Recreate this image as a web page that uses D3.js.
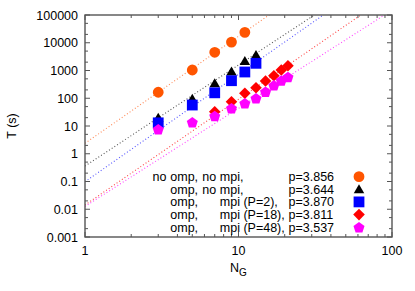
<!DOCTYPE html>
<html><head><meta charset="utf-8">
<script src="https://cdn.jsdelivr.net/npm/d3@7"></script>
<style>body{margin:0;background:#fff}svg text{font-family:"Liberation Sans",Arial,Helvetica,sans-serif;font-size:12.5px;fill:#000}</style>
</head><body>
<svg id="c" width="415" height="291"></svg>
<script>
// ---- data ----
const xTicks = [1, 10, 100];
const xTickLabels = ["1", "10", "100"];
const yTicks = [0.001, 0.01, 0.1, 1, 10, 100, 1000, 10000, 100000];
const yTickLabels = ["0.001", "0.01", "0.1", "1", "10", "100", "1000", "10000", "100000"];

const ngNoOmpNoMpi = [3, 5, 7, 9, 11];
const tNoOmpNoMpi  = [164, 1040, 4530, 10600, 23800];
const ngOmpNoMpi   = [3, 5, 7, 9, 11, 13];
const tOmpNoMpi    = [20, 95, 345, 920, 2220, 3650];
const ngMpiP2      = [3, 5, 7, 9, 11, 13];
const tMpiP2       = [13, 57, 157, 429, 883, 1815];
const ngMpiP18     = [7, 9, 11, 13, 15, 17, 19, 21];
const tMpiP18      = [32.7, 75, 151, 240, 419, 650, 1042, 1489];
const ngMpiP48     = [3, 5, 7, 9, 11, 13, 15, 17, 19, 21];
const tMpiP48      = [7.6, 13.6, 22.9, 43.4, 65.8, 99.6, 172, 290, 436, 583];

const legendCol1 = ["no", "", "", "", ""];
const legendCol2 = ["omp,", "omp,", "omp,", "omp,", "omp,"];
const legendCol3 = ["no", "no", "", "", ""];
const legendCol4 = ["mpi,", "mpi,", "mpi (P=2),", "mpi (P=18),", "mpi (P=48),"];
const legendP    = ["p=3.856", "p=3.644", "p=3.870", "p=3.811", "p=3.537"];

// fit T = a * N^p
const fitA = [2.38, 0.36, 0.098, 0.0142, 0.0126];
const fitP = [3.856, 3.644, 3.870, 3.811, 3.537];

const markerColors = ["#ff5500", "#000000", "#0000ff", "#ff0000", "#ff00ff"];
const lineColors   = ["#ff8855", "#555555", "#5555ff", "#ff4444", "#ff44ff"];
const shapes = ["circle", "triangle", "square", "diamond", "pentagon"];

// ---- layout ----
const svg = d3.select("#c");
const L = 85, R = 392, T = 15, B = 237;
const x = d3.scaleLog().domain([1, 100]).range([L, R]);
const y = d3.scaleLog().domain([0.001, 100000]).range([B, T]);

const series = [
  {ng: ngNoOmpNoMpi, t: tNoOmpNoMpi},
  {ng: ngOmpNoMpi, t: tOmpNoMpi},
  {ng: ngMpiP2, t: tMpiP2},
  {ng: ngMpiP18, t: tMpiP18},
  {ng: ngMpiP48, t: tMpiP48}
];

function shapePath(kind) {
  if (kind === "circle") return d3.symbol(d3.symbolCircle, 92)();
  if (kind === "triangle") {
    const w = 10.5, h = 9;
    return `M0,${-h/2-0.5}L${w/2},${h/2-0.5}L${-w/2},${h/2-0.5}Z`;
  }
  if (kind === "square") { const s = 5.4; return `M${-s},${-s}H${s}V${s}H${-s}Z`; }
  if (kind === "diamond") { const s = 5.8; return `M0,${-s}L${s},0L0,${s}L${-s},0Z`; }
  if (kind === "pentagon") {
    const r = 5.8, pts = [];
    for (let i = 0; i < 5; i++) {
      const a = -Math.PI/2 + i * 2*Math.PI/5;
      pts.push([r*Math.cos(a), r*Math.sin(a) + 0.5]);
    }
    return "M" + pts.map(p => p.join(",")).join("L") + "Z";
  }
}

svg.append("defs").append("clipPath").attr("id", "clip")
  .append("rect").attr("x", L).attr("y", T).attr("width", R - L).attr("height", B - T);

// fit lines
const fitG = svg.append("g").attr("clip-path", "url(#clip)");
fitA.forEach((a, i) => {
  const line = d3.line().x(d => x(d)).y(d => y(a * Math.pow(d, fitP[i])));
  fitG.append("path").datum([1, 100]).attr("d", line)
    .attr("fill", "none").attr("stroke", lineColors[i])
    .attr("stroke-width", 1.1).attr("stroke-dasharray", "1,2.2");
});

// markers
series.forEach((s, i) => {
  svg.append("g").selectAll("path").data(s.ng).join("path")
    .attr("d", shapePath(shapes[i]))
    .attr("transform", (d, j) => `translate(${x(d)},${y(s.t[j])})`)
    .attr("fill", markerColors[i]);
});

// frame and ticks
const axG = svg.append("g");
const frameColor = "#555";
axG.append("rect").attr("x", L).attr("y", T).attr("width", R - L).attr("height", B - T)
  .attr("fill", "none").attr("stroke", frameColor).attr("stroke-width", 1.4);

const xMinor = [];
[1, 10].forEach(dec => { for (let k = 2; k <= 9; k++) xMinor.push(dec * k); });
const yMinor = [];
yTicks.slice(0, -1).forEach(dec => { [2, 5].forEach(k => yMinor.push(dec * k)); });

function tick(x1, y1, x2, y2) {
  axG.append("line").attr("x1", x1).attr("y1", y1).attr("x2", x2).attr("y2", y2)
    .attr("stroke", frameColor).attr("stroke-width", 1);
}
xTicks.forEach(v => { const px = x(v); tick(px, B, px, B - 5); tick(px, T, px, T + 5); });
xMinor.forEach(v => { const px = x(v); tick(px, B, px, B - 3); tick(px, T, px, T + 3); });
yTicks.forEach(v => { const py = y(v); tick(L, py, L + 5, py); tick(R, py, R - 5, py); });
yMinor.forEach(v => { const py = y(v); tick(L, py, L + 3, py); tick(R, py, R - 3, py); });

// tick labels
svg.append("g").selectAll("text").data(yTicks).join("text")
  .attr("x", 78).attr("y", d => y(d) + 4.5).attr("text-anchor", "end")
  .text((d, i) => yTickLabels[i]);
svg.append("g").selectAll("text").data(xTicks).join("text")
  .attr("x", d => x(d)).attr("y", 254.5).attr("text-anchor", "middle")
  .text((d, i) => xTickLabels[i]);

// axis titles
const xt = svg.append("text").attr("x", 230).attr("y", 271.5);
xt.append("tspan").text("N");
xt.append("tspan").attr("dy", 4).style("font-size", "10px").text("G");
svg.append("text").attr("transform", "translate(16,126) rotate(-90)")
  .attr("text-anchor", "middle").text("T (s)");

// legend
const rowY = [176.7, 189.3, 201.9, 214.6, 227.2];
const lg = svg.append("g");
rowY.forEach((ry, i) => {
  const by = ry + 4.3;
  if (legendCol1[i]) lg.append("text").attr("x", 152.5).attr("y", by).text(legendCol1[i]);
  lg.append("text").attr("x", 170.3).attr("y", by).text(legendCol2[i]);
  if (legendCol3[i]) lg.append("text").attr("x", 202.3).attr("y", by).text(legendCol3[i]);
  lg.append("text").attr("x", 219.8).attr("y", by).text(legendCol4[i]);
  lg.append("text").attr("x", 288.5).attr("y", by).text(legendP[i]);
  lg.append("path").attr("d", shapePath(shapes[i]))
    .attr("transform", `translate(359,${ry})`).attr("fill", markerColors[i]);
});
</script>
</body></html>
